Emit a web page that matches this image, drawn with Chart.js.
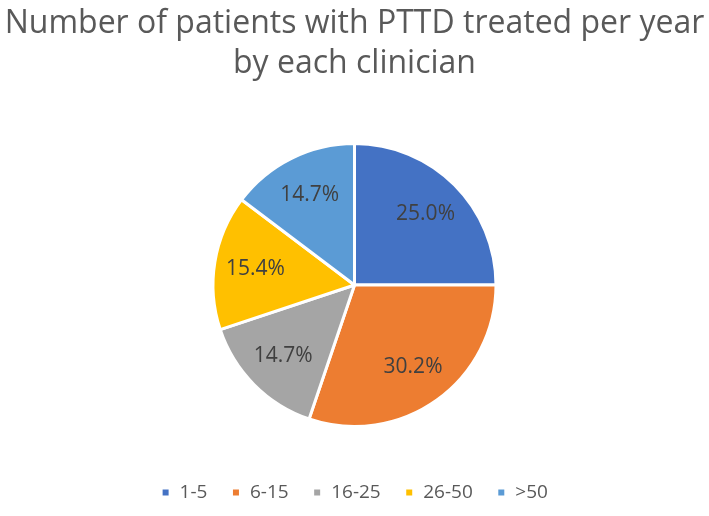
<!DOCTYPE html>
<html>
<head>
<meta charset="utf-8">
<script src="https://cdn.jsdelivr.net/npm/chart.js@4/dist/chart.umd.min.js"></script>
<style>
    html, body { margin: 0; padding: 0; background: #fff; }
    #wrap { width: 709px; height: 516px; }
</style>
</head>
<body>
<div id="wrap"><canvas id="pie" width="709" height="516"></canvas></div>
<script>
const categories = ['1-5', '6-15', '16-25', '26-50', '>50'];
const shares = [25.0, 30.2, 14.7, 15.4, 14.7];
const sliceColors = ['#4472C4', '#ED7D31', '#A5A5A5', '#FFC000', '#5B9BD5'];

// draws the % labels inside each slice
const sliceLabels = {
    id: 'sliceLabels',
    afterDatasetsDraw(chart) {
        const ctx = chart.ctx;
        const meta = chart.getDatasetMeta(0);
        ctx.save();
        ctx.font = '21px "Open Sans", sans-serif';
        ctx.fillStyle = '#404040';
        ctx.textAlign = 'center';
        ctx.textBaseline = 'middle';
        meta.data.forEach((arc, i) => {
            const mid = (arc.startAngle + arc.endAngle) / 2;
            const r = arc.outerRadius * 0.71;
            const x = arc.x + Math.cos(mid) * r;
            const y = arc.y + Math.sin(mid) * r;
            ctx.fillText(shares[i].toFixed(1) + '%', x, y);
        });
        ctx.restore();
    }
};

new Chart(document.getElementById('pie'), {
    type: 'pie',
    data: {
        labels: categories,
        datasets: [{
            data: shares,
            backgroundColor: sliceColors,
            borderColor: '#ffffff',
            borderWidth: 3,
        }],
    },
    options: {
        responsive: false,
        animation: false,
        layout: { padding: { top: 0, bottom: 4 } },
        plugins: {
            title: {
                display: true,
                text: ['Number of patients with PTTD treated per year', 'by each clinician'],
                color: '#595959',
                font: { family: '"Open Sans", sans-serif', size: 32, weight: 'normal', lineHeight: 1.25 },
                padding: { top: 4, bottom: 58 },
            },
            legend: {
                position: 'bottom',
                title: { display: true, text: ' ', font: { size: 10 }, padding: { top: 0, bottom: 19 } },
                labels: {
                    color: '#595959',
                    font: { family: '"Open Sans", sans-serif', size: 19 },
                    boxWidth: 9,
                    boxHeight: 9,
                    padding: 24,
                },
            },
            tooltip: { enabled: false },
        },
    },
    plugins: [sliceLabels],
});
</script>
</body>
</html>
